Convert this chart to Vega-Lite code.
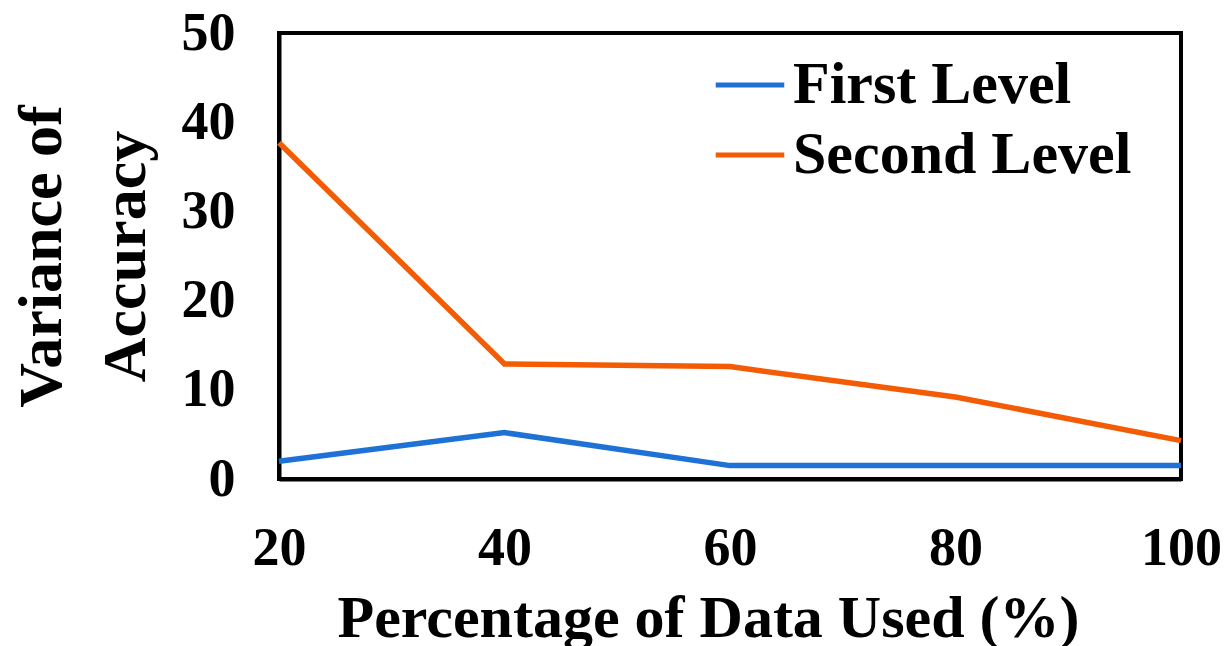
{
  "$schema": "https://vega.github.io/schema/vega-lite/v6.json",
  "autosize": "none",
  "width": 902,
  "height": 446,
  "padding": {"left": 279, "top": 33, "right": 48, "bottom": 167},
  "background": "white",
  "config": {
    "font": "Liberation Serif",
    "view": {"stroke": "black", "strokeWidth": 4},
    "axis": {"grid": false, "ticks": false, "domainColor": "black", "domainWidth": 4, "labelFont": "Liberation Serif", "labelFontWeight": "bold", "labelFontSize": 54, "labelColor": "black", "titleFont": "Liberation Serif", "titleFontWeight": "bold", "titleFontSize": 60, "titleColor": "black"}
  },
  "data": {
    "values": [
      {"pct": 20, "variance": 2.0, "level": "First Level"},
      {"pct": 40, "variance": 5.2, "level": "First Level"},
      {"pct": 60, "variance": 1.5, "level": "First Level"},
      {"pct": 80, "variance": 1.5, "level": "First Level"},
      {"pct": 100, "variance": 1.5, "level": "First Level"},
      {"pct": 20, "variance": 37.7, "level": "Second Level"},
      {"pct": 40, "variance": 12.9, "level": "Second Level"},
      {"pct": 60, "variance": 12.6, "level": "Second Level"},
      {"pct": 80, "variance": 9.2, "level": "Second Level"},
      {"pct": 100, "variance": 4.3, "level": "Second Level"}
    ]
  },
  "mark": {"type": "line", "strokeWidth": 5.5},
  "encoding": {
    "x": {
      "field": "pct", "type": "quantitative",
      "scale": {"domain": [20, 100], "nice": false, "zero": false},
      "axis": {"values": [20, 40, 60, 80, 100], "title": "Percentage of Data Used (%)", "labelPadding": 42, "titlePadding": 14, "titleX": 429, "labelFlush": false}
    },
    "y": {
      "field": "variance", "type": "quantitative",
      "scale": {"domain": [0, 50], "nice": false},
      "axis": {"values": [0, 10, 20, 30, 40, 50], "title": ["Variance of", "Accuracy"], "titleFontSize": 62, "labelPadding": 44, "titlePadding": 24, "titleLineHeight": 84}
    },
    "color": {
      "field": "level", "type": "nominal",
      "scale": {"domain": ["First Level", "Second Level"], "range": ["#1E72D6", "#F35B04"]},
      "legend": {
        "title": null, "orient": "none", "legendX": 434, "legendY": 15, "padding": 0,
        "symbolType": "stroke", "symbolSize": 4700, "symbolStrokeWidth": 5,
        "labelFont": "Liberation Serif", "labelFontWeight": "bold", "labelFontSize": 60, "labelColor": "black",
        "labelOffset": 6, "rowPadding": 3, "labelLimit": 600
      }
    }
  }
}
